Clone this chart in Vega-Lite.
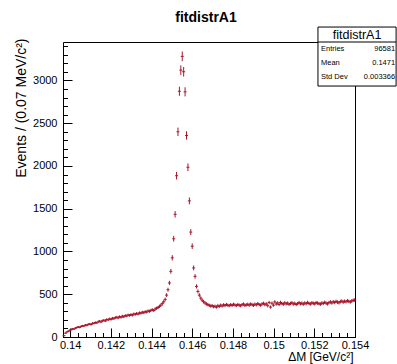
{
  "$schema": "https://vega.github.io/schema/vega-lite/v6.json",
  "width": 292,
  "height": 295,
  "autosize": "none",
  "padding": {"left": 63, "top": 42, "right": 42, "bottom": 27},
  "background": "white",
  "title": {"text": "fitdistrA1", "anchor": "middle", "font": "Liberation Sans", "fontSize": 14, "fontWeight": "bold", "color": "black", "offset": 2, "dx": -3},
  "config": {"view": {"stroke": "black", "strokeWidth": 1}},
  "datasets": {
    "hist": [
      {"x":0.13970,"n":15},{"x":0.13977,"n":45},{"x":0.13984,"n":58},{"x":0.13991,"n":66},{"x":0.13998,"n":78},
      {"x":0.14005,"n":85},{"x":0.14012,"n":96},{"x":0.14019,"n":92},{"x":0.14026,"n":104},{"x":0.14033,"n":110},
      {"x":0.14040,"n":118},{"x":0.14047,"n":112},{"x":0.14054,"n":125},{"x":0.14061,"n":130},{"x":0.14068,"n":128},
      {"x":0.14075,"n":140},{"x":0.14082,"n":136},{"x":0.14089,"n":148},{"x":0.14096,"n":152},{"x":0.14103,"n":145},
      {"x":0.14110,"n":160},{"x":0.14117,"n":158},{"x":0.14124,"n":170},{"x":0.14131,"n":165},{"x":0.14138,"n":178},
      {"x":0.14145,"n":186},{"x":0.14152,"n":175},{"x":0.14159,"n":190},{"x":0.14166,"n":196},{"x":0.14173,"n":188},
      {"x":0.14180,"n":205},{"x":0.14187,"n":200},{"x":0.14194,"n":212},{"x":0.14201,"n":206},{"x":0.14208,"n":220},
      {"x":0.14215,"n":214},{"x":0.14222,"n":226},{"x":0.14229,"n":232},{"x":0.14236,"n":222},{"x":0.14243,"n":238},
      {"x":0.14250,"n":230},{"x":0.14257,"n":244},{"x":0.14264,"n":236},{"x":0.14271,"n":250},{"x":0.14278,"n":246},
      {"x":0.14285,"n":258},{"x":0.14292,"n":252},{"x":0.14299,"n":262},{"x":0.14306,"n":255},{"x":0.14313,"n":270},
      {"x":0.14320,"n":264},{"x":0.14327,"n":276},{"x":0.14334,"n":268},{"x":0.14341,"n":282},{"x":0.14348,"n":278},
      {"x":0.14355,"n":290},{"x":0.14362,"n":284},{"x":0.14369,"n":296},{"x":0.14376,"n":292},{"x":0.14383,"n":305},
      {"x":0.14390,"n":300},{"x":0.14397,"n":312},{"x":0.14404,"n":318},{"x":0.14411,"n":310},{"x":0.14418,"n":328},
      {"x":0.14425,"n":336},{"x":0.14432,"n":345},{"x":0.14439,"n":358},{"x":0.14446,"n":372},{"x":0.14453,"n":390},
      {"x":0.14460,"n":412},{"x":0.14467,"n":440},{"x":0.14474,"n":490},{"x":0.14481,"n":553},{"x":0.14488,"n":632},
      {"x":0.14495,"n":768},{"x":0.14502,"n":926},{"x":0.14509,"n":1149},{"x":0.14516,"n":1435},{"x":0.14523,"n":1886},
      {"x":0.14530,"n":2400},{"x":0.14537,"n":2874},{"x":0.14544,"n":3121},{"x":0.14551,"n":3282},{"x":0.14558,"n":3102},
      {"x":0.14565,"n":2867},{"x":0.14572,"n":2357},{"x":0.14579,"n":1985},{"x":0.14586,"n":1592},{"x":0.14593,"n":1227},
      {"x":0.14600,"n":1062},{"x":0.14607,"n":808},{"x":0.14614,"n":709},{"x":0.14621,"n":592},{"x":0.14628,"n":533},
      {"x":0.14635,"n":490},{"x":0.14642,"n":455},{"x":0.14649,"n":430},{"x":0.14656,"n":412},{"x":0.14663,"n":398},
      {"x":0.14670,"n":386},{"x":0.14677,"n":378},{"x":0.14684,"n":370},{"x":0.14691,"n":362},{"x":0.14698,"n":366},
      {"x":0.14705,"n":355},{"x":0.14712,"n":360},{"x":0.14719,"n":350},{"x":0.14726,"n":365},{"x":0.14733,"n":358},
      {"x":0.14740,"n":372},{"x":0.14747,"n":362},{"x":0.14754,"n":376},{"x":0.14761,"n":368},{"x":0.14768,"n":380},
      {"x":0.14775,"n":372},{"x":0.14782,"n":366},{"x":0.14789,"n":378},{"x":0.14796,"n":370},{"x":0.14803,"n":382},
      {"x":0.14810,"n":374},{"x":0.14817,"n":368},{"x":0.14824,"n":380},{"x":0.14831,"n":372},{"x":0.14838,"n":365},
      {"x":0.14845,"n":378},{"x":0.14852,"n":385},{"x":0.14859,"n":370},{"x":0.14866,"n":376},{"x":0.14873,"n":382},
      {"x":0.14880,"n":372},{"x":0.14887,"n":386},{"x":0.14894,"n":378},{"x":0.14901,"n":370},{"x":0.14908,"n":384},
      {"x":0.14915,"n":376},{"x":0.14922,"n":390},{"x":0.14929,"n":380},{"x":0.14936,"n":372},{"x":0.14943,"n":386},
      {"x":0.14950,"n":394},{"x":0.14957,"n":378},{"x":0.14964,"n":388},{"x":0.14971,"n":366},{"x":0.14978,"n":402},
      {"x":0.14985,"n":350},{"x":0.14992,"n":395},{"x":0.14999,"n":372},{"x":0.15006,"n":410},{"x":0.15013,"n":386},
      {"x":0.15020,"n":398},{"x":0.15027,"n":380},{"x":0.15034,"n":404},{"x":0.15041,"n":392},{"x":0.15048,"n":384},
      {"x":0.15055,"n":400},{"x":0.15062,"n":388},{"x":0.15069,"n":396},{"x":0.15076,"n":382},{"x":0.15083,"n":392},
      {"x":0.15090,"n":400},{"x":0.15097,"n":386},{"x":0.15104,"n":394},{"x":0.15111,"n":380},{"x":0.15118,"n":390},
      {"x":0.15125,"n":402},{"x":0.15132,"n":388},{"x":0.15139,"n":396},{"x":0.15146,"n":384},{"x":0.15153,"n":398},
      {"x":0.15160,"n":390},{"x":0.15167,"n":404},{"x":0.15174,"n":392},{"x":0.15181,"n":386},{"x":0.15188,"n":400},
      {"x":0.15195,"n":394},{"x":0.15202,"n":388},{"x":0.15209,"n":402},{"x":0.15216,"n":396},{"x":0.15223,"n":390},
      {"x":0.15230,"n":384},{"x":0.15237,"n":398},{"x":0.15244,"n":392},{"x":0.15251,"n":406},{"x":0.15258,"n":396},
      {"x":0.15265,"n":388},{"x":0.15272,"n":402},{"x":0.15279,"n":410},{"x":0.15286,"n":398},{"x":0.15293,"n":412},
      {"x":0.15300,"n":404},{"x":0.15307,"n":416},{"x":0.15314,"n":408},{"x":0.15321,"n":400},{"x":0.15328,"n":414},
      {"x":0.15335,"n":420},{"x":0.15342,"n":408},{"x":0.15349,"n":418},{"x":0.15356,"n":412},{"x":0.15363,"n":424},
      {"x":0.15370,"n":416},{"x":0.15377,"n":410},{"x":0.15384,"n":422},{"x":0.15391,"n":428},{"x":0.15398,"n":432}
    ]
  },
  "layer": [
    {
      "data": {"name": "hist"},
      "mark": {"type": "point", "shape": "M0,-1V1", "filled": false, "color": "#a8162c", "strokeWidth": 1, "opacity": 1},
      "encoding": {
        "x": {"field": "x", "type": "quantitative", "scale": {"domain": [0.13965, 0.154], "nice": false, "zero": false},
          "axis": {"orient": "bottom", "values": [0.14, 0.142, 0.144, 0.146, 0.148, 0.15, 0.152, 0.154], "format": ".3~f",
            "tickSize": -9, "tickColor": "black", "tickWidth": 1, "domain": false, "grid": false,
            "labelFont": "Liberation Sans", "labelFontSize": 11, "labelColor": "black", "labelPadding": 11, "labelFlush": false, "labelOverlap": false,
            "title": "ΔM [GeV/c²]", "titleFont": "Liberation Sans", "titleFontSize": 12, "titleFontWeight": "normal", "titleColor": "black",
            "titleAnchor": "end", "titleAlign": "right", "titleBaseline": "middle", "titleX": 290, "titleY": 19.5}},
        "y": {"field": "n", "type": "quantitative", "scale": {"domain": [0, 3450], "nice": false},
          "axis": {"orient": "left", "values": [0, 500, 1000, 1500, 2000, 2500, 3000], "format": "d",
            "tickSize": -9, "tickColor": "black", "tickWidth": 1, "domain": false, "grid": false,
            "labelFont": "Liberation Sans", "labelFontSize": 11, "labelColor": "black", "labelPadding": 15, "labelFlush": false, "labelOverlap": false,
            "title": "Events / (0.07 MeV/c²)", "titleFont": "Liberation Sans", "titleFontSize": 14, "titleFontWeight": "normal", "titleColor": "black",
            "titleAnchor": "end", "titleAlign": "right", "titleBaseline": "middle", "titleAngle": -90, "titleX": -42, "titleY": -4}},
        "size": {"field": "n", "type": "quantitative", "scale": {"domain": [0, 3450], "range": [0, 101]}, "legend": null}
      }
    },
    {
      "data": {"name": "hist"},
      "mark": {"type": "tick", "orient": "horizontal", "size": 3, "thickness": 1, "color": "#a8162c", "opacity": 1},
      "encoding": {
        "x": {"field": "x", "type": "quantitative",
          "axis": {"orient": "bottom", "values": [0.1400,0.1404,0.1408,0.1412,0.1416,0.1420,0.1424,0.1428,0.1432,0.1436,0.1440,0.1444,0.1448,0.1452,0.1456,0.1460,0.1464,0.1468,0.1472,0.1476,0.1480,0.1484,0.1488,0.1492,0.1496,0.1500,0.1504,0.1508,0.1512,0.1516,0.1520,0.1524,0.1528,0.1532,0.1536,0.1540],
            "tickSize": -4.5, "tickColor": "black", "tickWidth": 1, "labels": false, "domain": false, "grid": false, "title": null}},
        "y": {"field": "n", "type": "quantitative",
          "axis": {"orient": "left", "values": [0,100,200,300,400,500,600,700,800,900,1000,1100,1200,1300,1400,1500,1600,1700,1800,1900,2000,2100,2200,2300,2400,2500,2600,2700,2800,2900,3000,3100,3200,3300,3400],
            "tickSize": -4.5, "tickColor": "black", "tickWidth": 1, "labels": false, "domain": false, "grid": false, "title": null}}
      }
    },
    {
      "data": {"values": [{"box": "stats"}]},
      "mark": {"type": "rect", "fill": "white", "stroke": "black", "strokeWidth": 1},
      "encoding": {
        "x": {"datum": 0.15218, "type": "quantitative", "axis": null},
        "x2": {"datum": 0.15602},
        "y": {"datum": 3625, "type": "quantitative", "axis": null},
        "y2": {"datum": 2935}
      }
    },
    {
      "data": {"values": [{"box": "stats"}]},
      "mark": {"type": "rule", "stroke": "black", "strokeWidth": 1},
      "encoding": {
        "x": {"datum": 0.15218, "type": "quantitative", "axis": null},
        "x2": {"datum": 0.15602},
        "y": {"datum": 3450, "type": "quantitative", "axis": null}
      }
    },
    {
      "data": {"values": [{"name": "fitdistrA1"}]},
      "mark": {"type": "text", "font": "Liberation Sans", "fontSize": 12.5, "color": "black", "align": "center", "baseline": "middle"},
      "encoding": {
        "x": {"datum": 0.15410, "type": "quantitative", "axis": null},
        "y": {"datum": 3532, "type": "quantitative", "axis": null},
        "text": {"field": "name"}
      }
    },
    {
      "data": {"values": [{"stat": "Entries", "value": "96581"}]},
      "layer": [
        {"mark": {"type": "text", "font": "Liberation Sans", "fontSize": 7.5, "color": "black", "align": "left", "baseline": "middle"},
         "encoding": {"x": {"datum": 0.15233, "type": "quantitative", "axis": null}, "y": {"datum": 3368, "type": "quantitative", "axis": null}, "text": {"field": "stat"}}},
        {"mark": {"type": "text", "font": "Liberation Sans", "fontSize": 7.5, "color": "black", "align": "right", "baseline": "middle"},
         "encoding": {"x": {"datum": 0.15597, "type": "quantitative", "axis": null}, "y": {"datum": 3368, "type": "quantitative", "axis": null}, "text": {"field": "value"}}}
      ]
    },
    {
      "data": {"values": [{"stat": "Mean", "value": "0.1471"}]},
      "layer": [
        {"mark": {"type": "text", "font": "Liberation Sans", "fontSize": 7.5, "color": "black", "align": "left", "baseline": "middle"},
         "encoding": {"x": {"datum": 0.15233, "type": "quantitative", "axis": null}, "y": {"datum": 3208, "type": "quantitative", "axis": null}, "text": {"field": "stat"}}},
        {"mark": {"type": "text", "font": "Liberation Sans", "fontSize": 7.5, "color": "black", "align": "right", "baseline": "middle"},
         "encoding": {"x": {"datum": 0.15597, "type": "quantitative", "axis": null}, "y": {"datum": 3208, "type": "quantitative", "axis": null}, "text": {"field": "value"}}}
      ]
    },
    {
      "data": {"values": [{"stat": "Std Dev", "value": "0.003366"}]},
      "layer": [
        {"mark": {"type": "text", "font": "Liberation Sans", "fontSize": 7.5, "color": "black", "align": "left", "baseline": "middle"},
         "encoding": {"x": {"datum": 0.15233, "type": "quantitative", "axis": null}, "y": {"datum": 3044, "type": "quantitative", "axis": null}, "text": {"field": "stat"}}},
        {"mark": {"type": "text", "font": "Liberation Sans", "fontSize": 7.5, "color": "black", "align": "right", "baseline": "middle"},
         "encoding": {"x": {"datum": 0.15597, "type": "quantitative", "axis": null}, "y": {"datum": 3044, "type": "quantitative", "axis": null}, "text": {"field": "value"}}}
      ]
    }
  ],
  "resolve": {"axis": {"x": "independent", "y": "independent"}}
}
